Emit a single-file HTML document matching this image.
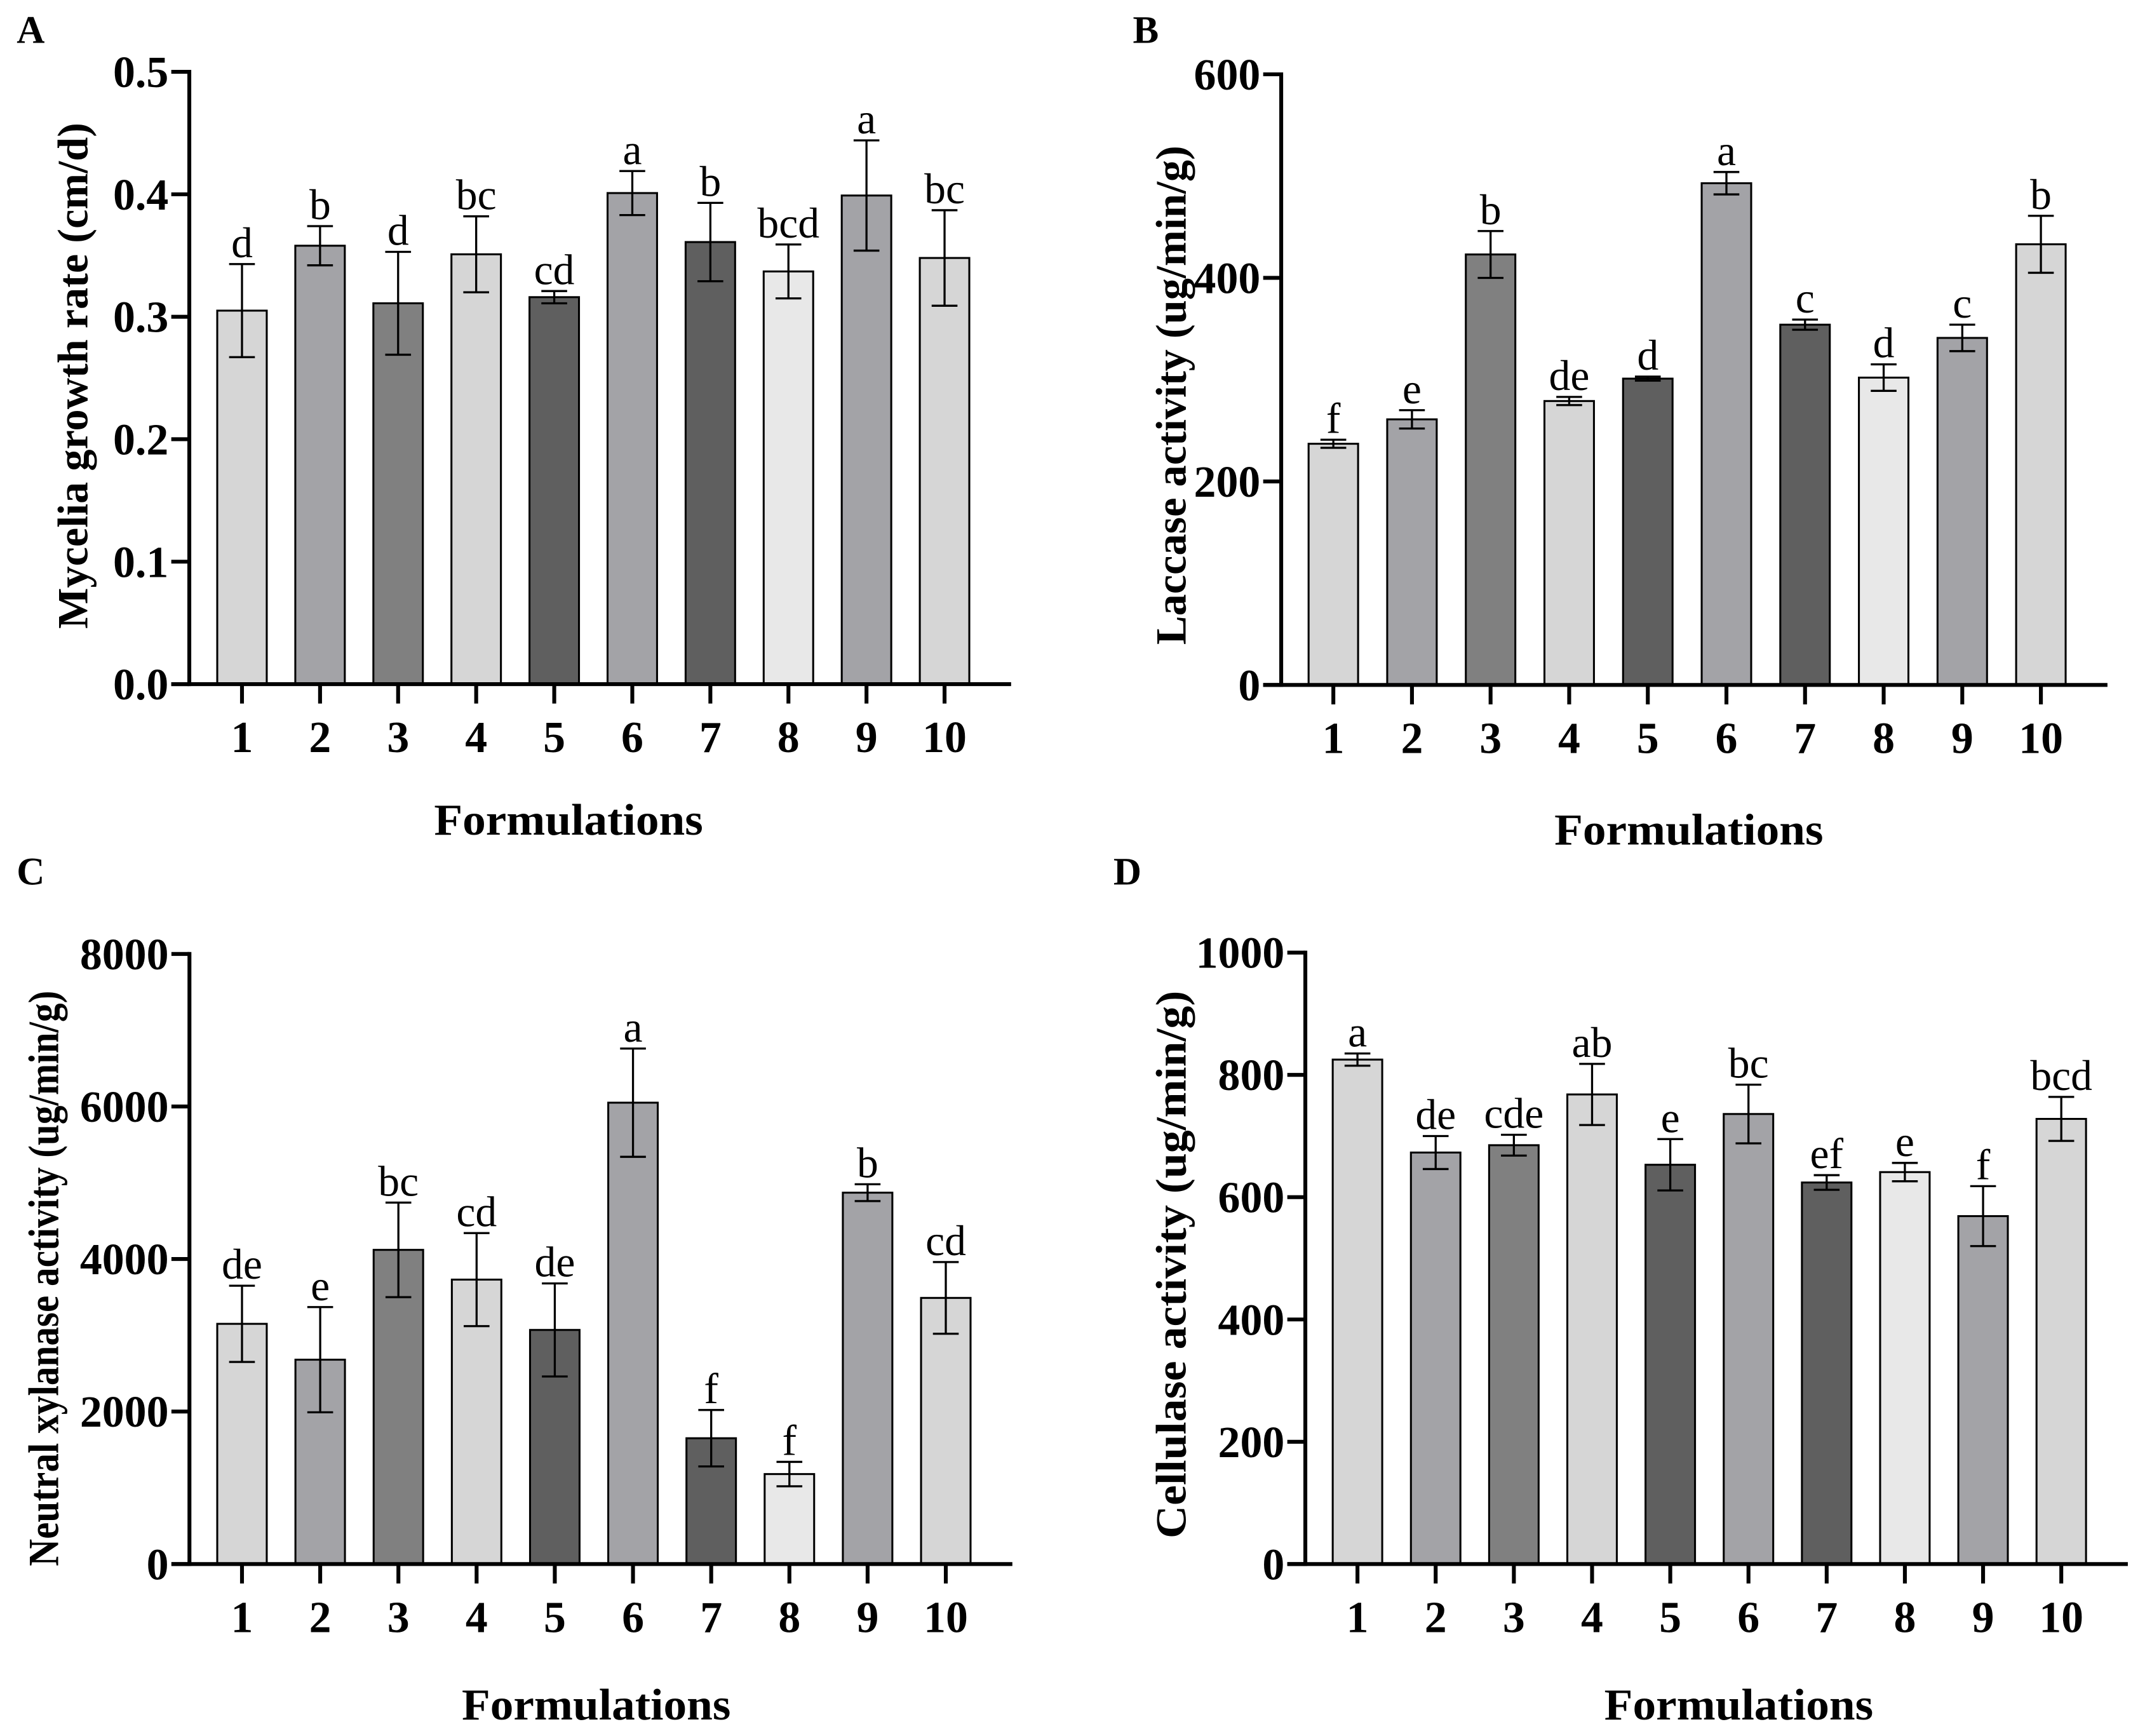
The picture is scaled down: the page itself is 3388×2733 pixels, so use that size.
<!DOCTYPE html>
<html><head><meta charset="utf-8"><style>
html,body{margin:0;padding:0;background:#fff}
svg{display:block}
text{font-family:"Liberation Serif",serif}
</style></head><body>
<svg id="fig" width="3388" height="2733" viewBox="0 0 1552 1252" xmlns="http://www.w3.org/2000/svg"></svg>
<script>
const categories = ["1","2","3","4","5","6","7","8","9","10"];
const barColors = ["#d6d6d6","#a3a3a7","#808080","#d6d6d6","#5f5f5f","#a3a3a7","#5f5f5f","#e8e8e8","#a3a3a7","#d6d6d6"];

const growthValues = [0.305,0.358,0.311,0.351,0.316,0.401,0.361,0.337,0.399,0.348];
const growthErr = [0.038,0.016,0.042,0.031,0.005,0.018,0.032,0.022,0.045,0.039];
const growthLetters = ["d","b","d","bc","cd","a","b","bcd","a","bc"];
const growthTicks = ["0.0","0.1","0.2","0.3","0.4","0.5"];

const laccaseValues = [237,261,423,279,301,493,354,302,341,433];
const laccaseErr = [4,9,23,4,2,11,5,13,13,28];
const laccaseLetters = ["f","e","b","de","d","a","c","d","c","b"];
const laccaseTicks = ["0","200","400","600"];

const xylanaseValues = [3150,2680,4120,3730,3070,6050,1650,1180,4870,3490];
const xylanaseErr = [500,690,620,610,610,710,370,160,110,470];
const xylanaseLetters = ["de","e","bc","cd","de","a","f","f","b","cd"];
const xylanaseTicks = ["0","2000","4000","6000","8000"];

const cellulaseValues = [825,673,685,768,653,736,624,641,569,728];
const cellulaseErr = [10,27,17,50,42,48,12,15,49,36];
const cellulaseLetters = ["a","de","cde","ab","e","bc","ef","e","f","bcd"];
const cellulaseTicks = ["0","200","400","600","800","1000"];

const NS="http://www.w3.org/2000/svg";
const svg=document.getElementById('fig');
function mk(tag,attrs,parent){const e=document.createElementNS(NS,tag);for(const k in attrs)e.setAttribute(k,attrs[k]);(parent||svg).appendChild(e);return e;}

function panel(cfg){
  const g=mk('g',{});
  
  
  const ymax=parseFloat(cfg.ticks[cfg.ticks.length-1]);
  const y=v=>cfg.y0-(v/ymax)*(cfg.y0-cfg.yTop);
  const step=cfg.step;
  const x=i=>cfg.xFirst+i*step;
  const bw=35.7;
  const pl=mk('text',{x:cfg.lx,y:cfg.ly,'font-size':28,'font-weight':'bold'},g);pl.textContent=cfg.letter;
  
  
  cfg.values.forEach((v,i)=>{
    const r=mk('rect',{x:x(i)-bw/2,y:y(v),width:bw,height:cfg.y0-y(v),fill:barColors[i],stroke:'#000','stroke-width':1.4},g);
    
    
    const hi=y(v+cfg.err[i]),lo=y(v-cfg.err[i]);
    const eb=mk('path',{d:`M${x(i)},${hi}V${lo}M${x(i)-9.3},${hi}H${x(i)+9.3}M${x(i)-9.3},${lo}H${x(i)+9.3}`,stroke:'#000','stroke-width':1.5,fill:'none'},g);
    
    
    const t=mk('text',{x:x(i),y:hi-5,'font-size':31,'text-anchor':'middle'},g);t.textContent=cfg.letters[i];
    
    
    const tk=mk('line',{x1:x(i),x2:x(i),y1:cfg.y0,y2:cfg.y0+14,stroke:'#000','stroke-width':2.8},g);
    
    
    const tl=mk('text',{x:x(i),y:cfg.y0+49,'font-size':32,'font-weight':'bold','text-anchor':'middle'},g);tl.textContent=categories[i];
    
    
  });
  cfg.ticks.forEach(t=>{
    const yy=y(parseFloat(t));
    const l=mk('line',{x1:cfg.ax-13,x2:cfg.ax,y1:yy,y2:yy,stroke:'#000','stroke-width':2.8},g);
    
    
    const tt=mk('text',{x:cfg.ax-15,y:yy+11,'font-size':32,'font-weight':'bold','text-anchor':'end'},g);tt.textContent=t;
    
    
  });
  const ya=mk('line',{x1:cfg.ax,x2:cfg.ax,y1:cfg.yTop-1.4,y2:cfg.y0+1.4,stroke:'#000','stroke-width':2.8},g);
  
  
  const xa=mk('line',{x1:cfg.ax-13,x2:x(categories.length-1)+48,y1:cfg.y0,y2:cfg.y0,stroke:'#000','stroke-width':2.8},g);
  
  
  const xt=mk('text',{x:cfg.fx,y:cfg.fy,'font-size':32,'font-weight':'bold','text-anchor':'middle',textLength:194,lengthAdjust:'spacingAndGlyphs'},g);xt.textContent='Formulations';
  
  
  const yt=mk('text',{x:cfg.yl,y:cfg.ycy,'font-size':31,'font-weight':'bold','text-anchor':'middle',textLength:cfg.ylen,lengthAdjust:'spacingAndGlyphs',transform:`rotate(-90 ${cfg.yl} ${cfg.ycy})`},g);yt.textContent=cfg.ylabel;
  
  
}

panel({letter:'A',lx:12,ly:31,ax:136.5,y0:493.4,yTop:51.8,xFirst:174.5,step:56.3,values:growthValues,err:growthErr,letters:growthLetters,ticks:growthTicks,fx:410,fy:602,yl:63,ycy:271,ylen:365,ylabel:'Mycelia growth rate (cm/d)'});
panel({letter:'B',lx:817,ly:31,ax:924,y0:494,yTop:53.6,xFirst:961.6,step:56.7,values:laccaseValues,err:laccaseErr,letters:laccaseLetters,ticks:laccaseTicks,fx:1218,fy:609,yl:855,ycy:285,ylen:360,ylabel:'Laccase activity (ug/min/g)'});
panel({letter:'C',lx:12,ly:638,ax:136.6,y0:1128,yTop:688,xFirst:174.5,step:56.4,values:xylanaseValues,err:xylanaseErr,letters:xylanaseLetters,ticks:xylanaseTicks,fx:430,fy:1240,yl:42,ycy:922,ylen:415,ylabel:'Neutral xylanase activity (ug/min/g)'});
panel({letter:'D',lx:803,ly:638,ax:941.4,y0:1128,yTop:687,xFirst:979,step:56.4,values:cellulaseValues,err:cellulaseErr,letters:cellulaseLetters,ticks:cellulaseTicks,fx:1254,fy:1240,yl:855,ycy:912,ylen:395,ylabel:'Cellulase activity (ug/min/g)'});
</script>
</body></html>
